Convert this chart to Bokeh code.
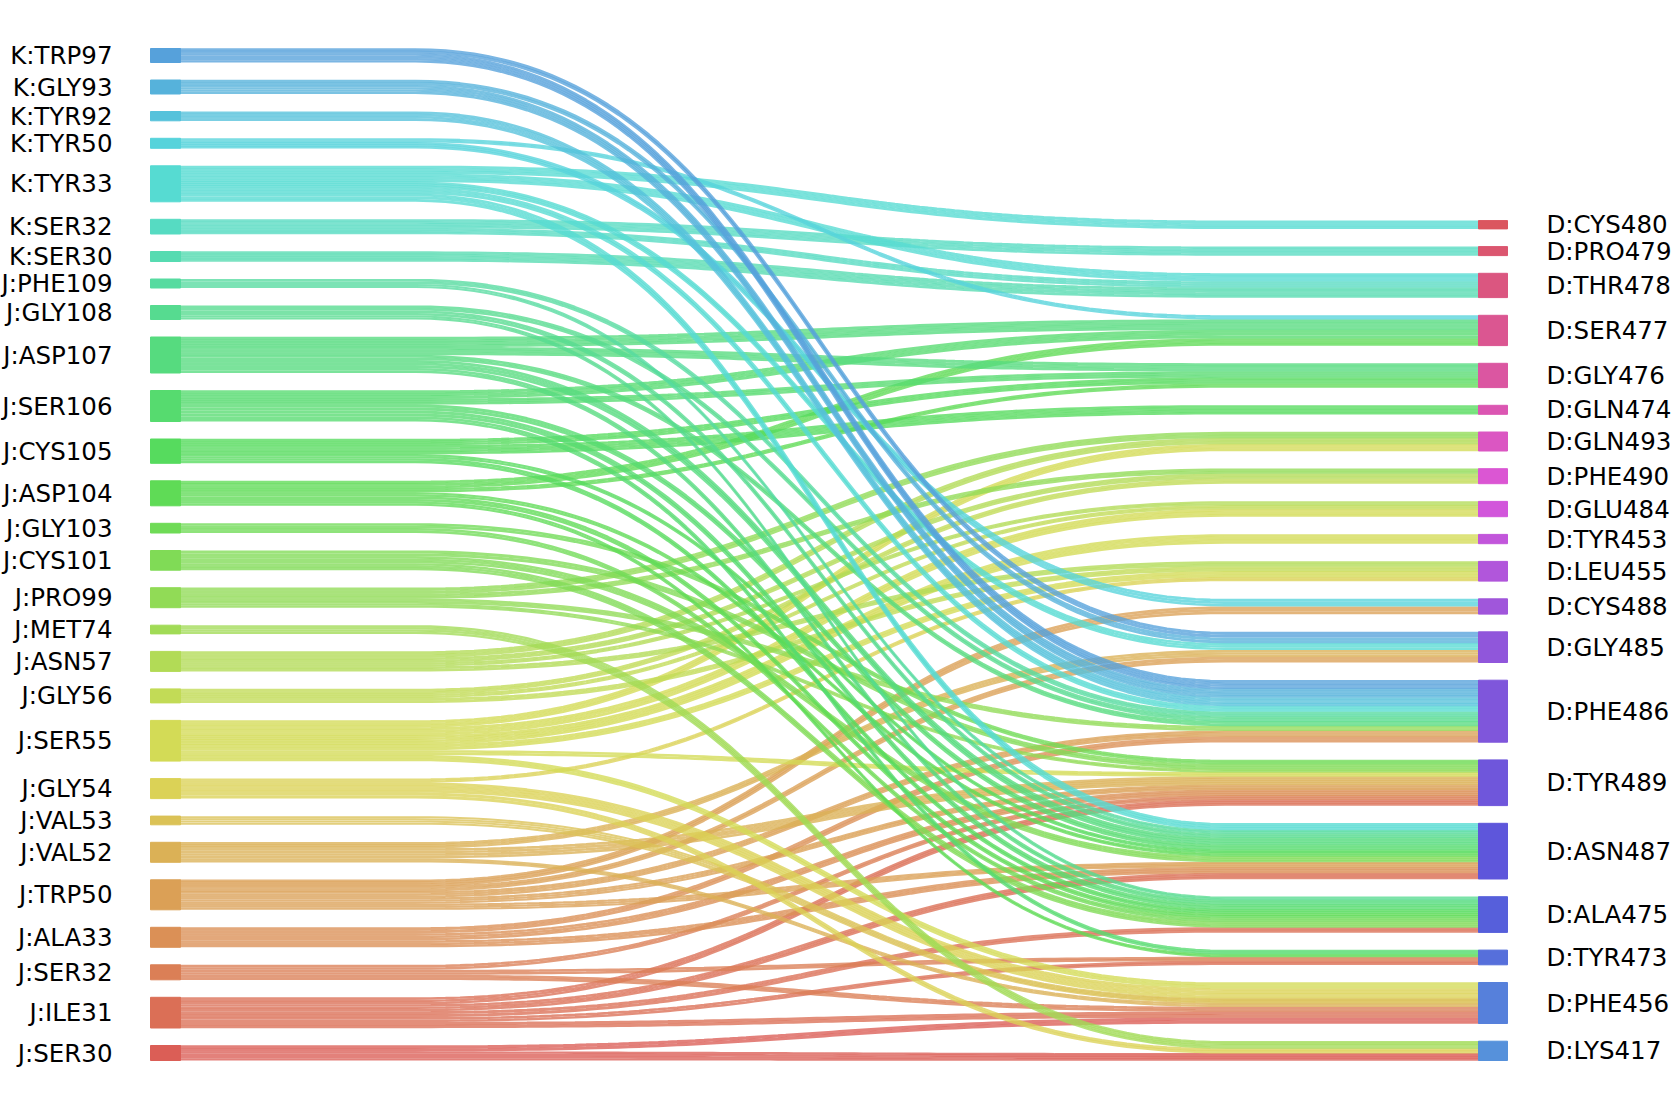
import colorsys
import numpy as np
from bokeh.plotting import figure
from bokeh.models import Range1d
from bokeh.core.properties import value
from bokeh.embed import file_html
from bokeh.resources import INLINE

# ---------------- data ----------------
left_nodes = ["K:TRP97", "K:GLY93", "K:TYR92", "K:TYR50", "K:TYR33", "K:SER32", "K:SER30",
              "J:PHE109", "J:GLY108", "J:ASP107", "J:SER106", "J:CYS105", "J:ASP104", "J:GLY103",
              "J:CYS101", "J:PRO99", "J:MET74", "J:ASN57", "J:GLY56", "J:SER55", "J:GLY54",
              "J:VAL53", "J:VAL52", "J:TRP50", "J:ALA33", "J:SER32", "J:ILE31", "J:SER30"]
left_weight = [14, 14, 9.3, 10, 36, 14.7, 10, 9, 14, 36, 31, 24.3, 25, 9.7,
               19.7, 20, 8.7, 20, 14, 40.7, 20, 8.7, 20, 30, 20, 15, 30.7, 15]

right_nodes = ["D:CYS480", "D:PRO479", "D:THR478", "D:SER477", "D:GLY476", "D:GLN474",
               "D:GLN493", "D:PHE490", "D:GLU484", "D:TYR453", "D:LEU455", "D:CYS488",
               "D:GLY485", "D:PHE486", "D:TYR489", "D:ASN487", "D:ALA475", "D:TYR473",
               "D:PHE456", "D:LYS417"]
right_weight = [8.3, 9, 24.3, 30.3, 24.3, 9, 19, 15, 15.3, 9.3, 19.7, 15.3,
                30.7, 62, 45.7, 55.7, 35.7, 14.7, 41, 19.3]

link_source = ["K:TRP97", "K:TRP97", "K:GLY93", "K:GLY93", "K:TYR92", "K:TYR50", "K:TYR50",
               "K:TYR33", "K:TYR33", "K:TYR33", "K:TYR33", "K:TYR33", "K:SER32", "K:SER32",
               "K:SER30", "J:PHE109", "J:PHE109", "J:GLY108", "J:GLY108", "J:GLY108",
               "J:ASP107", "J:ASP107", "J:ASP107", "J:ASP107", "J:ASP107",
               "J:SER106", "J:SER106", "J:SER106", "J:SER106", "J:SER106",
               "J:CYS105", "J:CYS105", "J:CYS105", "J:CYS105",
               "J:ASP104", "J:ASP104", "J:ASP104", "J:ASP104", "J:ASP104",
               "J:GLY103", "J:GLY103", "J:CYS101", "J:CYS101", "J:CYS101",
               "J:PRO99", "J:PRO99", "J:PRO99", "J:PRO99", "J:MET74",
               "J:ASN57", "J:ASN57", "J:ASN57", "J:ASN57", "J:GLY56", "J:GLY56", "J:GLY56",
               "J:SER55", "J:SER55", "J:SER55", "J:SER55", "J:SER55", "J:SER55",
               "J:GLY54", "J:GLY54", "J:GLY54", "J:VAL53", "J:VAL52", "J:VAL52", "J:VAL52",
               "J:TRP50", "J:TRP50", "J:TRP50", "J:TRP50", "J:TRP50",
               "J:ALA33", "J:ALA33", "J:ALA33", "J:SER32", "J:SER32", "J:SER32",
               "J:ILE31", "J:ILE31", "J:ILE31", "J:ILE31", "J:ILE31", "J:SER30", "J:SER30"]
link_target = ["D:GLY485", "D:PHE486", "D:GLY485", "D:PHE486", "D:PHE486", "D:SER477", "D:CYS488",
               "D:CYS480", "D:THR478", "D:GLY485", "D:PHE486", "D:ASN487", "D:PRO479", "D:THR478",
               "D:THR478", "D:PHE486", "D:ASN487", "D:PHE486", "D:ASN487", "D:ALA475",
               "D:SER477", "D:GLY476", "D:PHE486", "D:ASN487", "D:ALA475",
               "D:SER477", "D:GLY476", "D:ASN487", "D:ALA475", "D:TYR473",
               "D:GLY476", "D:GLN474", "D:ASN487", "D:ALA475",
               "D:SER477", "D:GLY476", "D:ASN487", "D:ALA475", "D:TYR473",
               "D:TYR489", "D:ALA475", "D:TYR489", "D:ASN487", "D:ALA475",
               "D:GLN493", "D:PHE490", "D:PHE486", "D:TYR489", "D:LYS417",
               "D:GLN493", "D:PHE490", "D:GLU484", "D:LEU455", "D:PHE490", "D:GLU484", "D:LEU455",
               "D:GLN493", "D:GLU484", "D:TYR453", "D:LEU455", "D:TYR489", "D:PHE456",
               "D:LEU455", "D:PHE456", "D:LYS417", "D:PHE456", "D:GLY485", "D:TYR489", "D:PHE456",
               "D:CYS488", "D:GLY485", "D:PHE486", "D:TYR489", "D:ASN487",
               "D:PHE486", "D:TYR489", "D:ASN487", "D:TYR489", "D:TYR473", "D:PHE456",
               "D:TYR489", "D:ASN487", "D:ALA475", "D:TYR473", "D:PHE456", "D:PHE456", "D:LYS417"]
link_value = [5, 9, 5, 9, 9, 4, 6,
              8, 8, 6, 6, 8, 9, 6,
              10, 5, 4, 5, 5, 4,
              10, 8, 5, 8, 5,
              8, 6, 6, 6, 5,
              6, 9, 4, 5,
              7, 4, 4, 5, 4,
              5, 5, 6, 7, 7,
              6, 5, 5, 4, 9,
              6, 5, 4, 5, 5, 4, 5,
              7, 8, 9, 6, 5, 6,
              4, 10, 6, 5, 6, 10, 4,
              6, 5, 6, 6, 6,
              6, 7, 7, 5, 5, 5,
              7, 7, 6, 5, 6, 6, 9]

# ---------------- layout / style ----------------
W, H = 1671, 1100
XL0, XL1 = 150, 180          # left node column
XR0, XR1 = 1478, 1507        # right node column
XB0, XB1 = 415, 1225         # where the curves bend
GAP_L, GAP_R = 17.5, 17.7
BOTTOM = 1060
FONT = value("DejaVu Sans")

nL, nR = len(left_nodes), len(right_nodes)


def hls(i, n=48):
    h = (i / n + 0.01) % 1.0
    r, g, b = colorsys.hls_to_rgb(h, 0.6, 0.65)
    return "#%02x%02x%02x" % (int(r * 255), int(g * 255), int(b * 255))


left_colors = [hls(nL - 1 - i) for i in range(nL)]
right_colors = [hls(nL + nR - 1 - j) for j in range(nR)]


def stack(vals, gap):
    total = sum(vals) + gap * (len(vals) - 1)
    y = BOTTOM - total
    tops = []
    for v in vals:
        tops.append(y)
        y += v + gap
    return tops


left_top = stack(left_weight, GAP_L)
right_top = stack(right_weight, GAP_R)

li = [left_nodes.index(s) for s in link_source]
ri = [right_nodes.index(t) for t in link_target]
nlink = len(link_value)

# thickness and offset of each link at both ends
lt = [0.0] * nlink
ly = [0.0] * nlink
rt = [0.0] * nlink
ry = [0.0] * nlink
for i in range(nL):
    ks = sorted([k for k in range(nlink) if li[k] == i], key=lambda k: ri[k])
    tot = sum(link_value[k] for k in ks)
    y = left_top[i]
    for k in ks:
        t = link_value[k] / tot * left_weight[i]
        lt[k], ly[k] = t, y
        y += t
for j in range(nR):
    ks = sorted([k for k in range(nlink) if ri[k] == j], key=lambda k: li[k])
    tot = sum(link_value[k] for k in ks)
    y = right_top[j]
    for k in ks:
        t = link_value[k] / tot * right_weight[j]
        rt[k], ry[k] = t, y
        y += t

tt = np.linspace(0, 1, 80)
bx = (1 - tt) ** 3 * XB0 + 3 * (1 - tt) ** 2 * tt * (XB0 + XB1) / 2 + \
     3 * (1 - tt) * tt ** 2 * (XB0 + XB1) / 2 + tt ** 3 * XB1
by0 = (1 - tt) ** 3 + 3 * (1 - tt) ** 2 * tt          # weight of left y
by1 = 3 * (1 - tt) * tt ** 2 + tt ** 3                # weight of right y

xs, ys, cols, lws = [], [], [], []
order = sorted(range(nlink), key=lambda k: -li[k])   # bottom sources drawn first
for k in order:
    n = max(2, int(round(max(lt[k], rt[k]) / 2.4)))
    for s in range(n):
        f = (s + 0.5) / n
        yl = ly[k] + f * lt[k]
        yr = ry[k] + f * rt[k]
        xs.append(np.concatenate([[XL1], bx, [XR0]]).tolist())
        ys.append(np.concatenate([[yl], by0 * yl + by1 * yr, [yr]]).tolist())
        cols.append(left_colors[li[k]])
        lws.append((lt[k] + rt[k]) / 2 / n + 0.3)

p = figure(width=W, height=H, output_backend="svg", toolbar_location=None,
           x_range=Range1d(0, W), y_range=Range1d(H, 0),
           x_axis_type=None, y_axis_type=None, min_border=0)
p.outline_line_color = None
p.grid.visible = False
p.background_fill_color = "white"
p.border_fill_color = "white"

p.multi_line(xs=xs, ys=ys, line_color=cols, line_width=lws, line_alpha=0.78, line_cap="round")

p.quad(left=XL0, right=XL1, top=left_top,
       bottom=[t + h for t, h in zip(left_top, left_weight)],
       fill_color=left_colors, line_color=left_colors, line_width=1)
p.quad(left=XR0, right=XR1, top=right_top,
       bottom=[t + h for t, h in zip(right_top, right_weight)],
       fill_color=right_colors, line_color=right_colors, line_width=1)

p.text(x=[112] * nL, y=[t + h / 2 for t, h in zip(left_top, left_weight)], text=left_nodes,
       text_align="right", text_baseline="middle", text_font=FONT,
       text_font_size="24.5px", text_color="black")
p.text(x=[1546] * nR, y=[t + h / 2 for t, h in zip(right_top, right_weight)], text=right_nodes,
       text_align="left", text_baseline="middle", text_font=FONT,
       text_font_size="24.5px", text_color="black")

open("out.html", "w").write(file_html(p, INLINE))
